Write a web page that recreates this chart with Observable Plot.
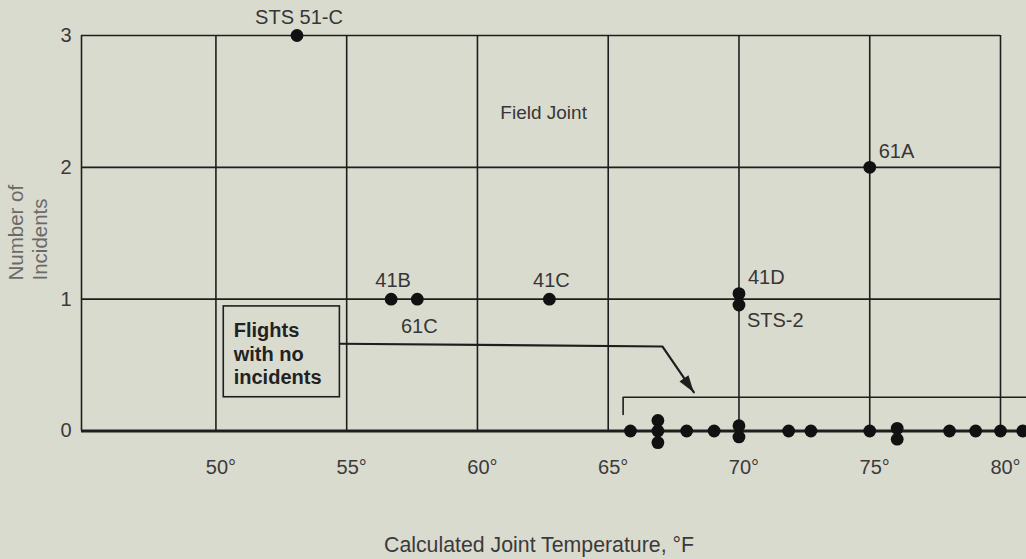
<!DOCTYPE html>
<html>
<head>
<meta charset="utf-8">
<script src="https://cdn.jsdelivr.net/npm/d3@7"></script>
<script src="https://cdn.jsdelivr.net/npm/@observablehq/plot@0.6"></script>
<style>
  html, body { margin: 0; padding: 0; background: #dadbcf; }
  #chart svg { display: block; }
</style>
</head>
<body>
<div id="chart"></div>
<script>
// ---- Data ----
// Flights with field-joint incidents
const incidentTemps  = [53.1, 56.7, 57.7, 62.75, 70, 70, 75];
const incidentCounts = [3, 1, 1, 1, 1, 1, 2];
const incidentStack  = [0, 0, 0, 0, 0.042, -0.045, 0];   // visual separation of coincident points
const incidentLabels = ["STS 51-C", "41B", "61C", "41C", "41D", "STS-2", "61A"];
const labelSide      = ["above", "above", "below", "above", "right-above", "right-below", "right-above"];

// Flights with no incidents
const zeroTemps  = [65.85, 66.9, 66.9, 66.9, 68, 69.05, 70, 70, 71.9, 72.75, 75, 76.05, 76.05, 78.05, 79.05, 80, 80.85];
const zeroStack  = [0, 0.08, 0, -0.088, 0, 0, 0.04, -0.045, 0, 0, 0, 0.02, -0.062, 0, 0, 0, 0];

// Axes
const xTicks = [50, 55, 60, 65, 70, 75, 80];
const yTicks = [0, 1, 2, 3];
const xDomain = [44.86, 80];
const yDomain = [0, 3];

// Annotation (data units)
const noteText = "Flights\nwith no\nincidents";
const noteBox = [{x1: 50.3, x2: 54.74, y1: 0.256, y2: 0.945}];
const leaderLine = [{x: 54.74, y: 0.662}, {x: 67.07, y: 0.641}, {x: 68.27, y: 0.294}];
const arrowTip = [{x: 68.27, y: 0.294}];
const bracketLine = [{x: 65.57, y: 0.125}, {x: 65.57, y: 0.256}, {x: 82, y: 0.256}];

// ---- Build tables ----
const incidents = incidentTemps.map((t, i) => ({
  temp: t, n: incidentCounts[i] + incidentStack[i], label: incidentLabels[i], side: labelSide[i]
}));
const noIncidents = zeroTemps.map((t, i) => ({temp: t, n: zeroStack[i]}));

const ink = "#1e1e1e";
const textInk = "#363636";
const font = "'Liberation Sans', Arial, Helvetica, sans-serif";

const arrowHead = {
  draw(context) {
    context.moveTo(0, 0);
    context.lineTo(5.5, 17);
    context.lineTo(-5.5, 17);
    context.closePath();
  }
};

const bySide = s => incidents.filter(d => d.side === s);

const chart = Plot.plot({
  width: 1026,
  height: 559,
  marginLeft: 81,
  marginRight: 26,
  marginTop: 35,
  marginBottom: 128.5,
  style: {background: "#dadbcf", fontFamily: font, fontSize: "20px", color: textInk, overflow: "visible"},
  x: {domain: xDomain},
  y: {domain: yDomain},
  marks: [
    // grid + frame
    Plot.ruleX(xTicks, {y1: yDomain[0], y2: yDomain[1], stroke: ink, strokeWidth: 1.6}),
    Plot.ruleX([xDomain[0]], {y1: yDomain[0], y2: yDomain[1], stroke: ink, strokeWidth: 1.6}),
    Plot.ruleY(yTicks.filter(d => d > 0), {x1: xDomain[0], x2: xDomain[1], stroke: ink, strokeWidth: 1.6}),
    Plot.ruleY([0], {x1: xDomain[0], x2: 82, stroke: ink, strokeWidth: 3.2}),

    // annotation
    Plot.rect(noteBox, {x1: "x1", x2: "x2", y1: "y1", y2: "y2", fill: "none", stroke: ink, strokeWidth: 1.6}),
    Plot.text([noteText], {x: 50.68, y: 0.591, textAnchor: "start", lineAnchor: "middle", lineHeight: 1.17,
      fontWeight: "bold", fontSize: 20, fill: "#222"}),
    Plot.line(leaderLine, {x: "x", y: "y", stroke: ink, strokeWidth: 2.2}),
    Plot.dot(arrowTip, {x: "x", y: "y", symbol: arrowHead, rotate: 145, fill: ink, stroke: "none"}),
    Plot.line(bracketLine, {x: "x", y: "y", stroke: ink, strokeWidth: 1.6}),

    Plot.text(["Field Joint"], {x: 62.53, y: 2.369, textAnchor: "middle", lineAnchor: "bottom", fontSize: 19, fill: textInk}),

    // points
    Plot.dot(noIncidents, {x: "temp", y: "n", r: 6.4, fill: "#111", stroke: "none"}),
    Plot.dot(incidents, {x: "temp", y: "n", r: 6.4, fill: "#111", stroke: "none"}),

    // point labels
    Plot.text(bySide("above"), {x: "temp", y: "n", text: "label", textAnchor: "middle", lineAnchor: "bottom", dx: 2, dy: -12, fontSize: 20, fill: textInk}),
    Plot.text(bySide("below"), {x: "temp", y: "n", text: "label", textAnchor: "middle", lineAnchor: "bottom", dx: 2, dy: 34, fontSize: 20, fill: textInk}),
    Plot.text(bySide("right-above"), {x: "temp", y: "n", text: "label", textAnchor: "start", lineAnchor: "bottom", dx: 9, dy: -9.5, fontSize: 20, fill: textInk}),
    Plot.text(bySide("right-below"), {x: "temp", y: "n", text: "label", textAnchor: "start", lineAnchor: "bottom", dx: 8, dy: 22, fontSize: 20, fill: textInk}),

    // axes
    Plot.axisX(xTicks, {tickSize: 0, tickPadding: 28.5, tickFormat: d => d + "°", dx: 5, fontSize: 20, fill: "#3a3a3a", label: null}),
    Plot.axisY(yTicks, {tickSize: 0, tickPadding: 10, tickFormat: d => String(d), fontSize: 20, fill: "#3a3a3a", label: null}),

    // axis titles
    Plot.text(["Calculated Joint Temperature, °F"], {frameAnchor: "bottom", textAnchor: "middle", lineAnchor: "bottom",
      dx: -2, dy: 120.5, fontSize: 21.3, fill: "#3a3a3a"}),
    Plot.text(["Number of"], {frameAnchor: "top-left", rotate: -90, textAnchor: "start", lineAnchor: "middle",
      dx: -65.5, dy: 245, fontSize: 20.5, fill: "#6a6a6a"}),
    Plot.text(["Incidents"], {frameAnchor: "top-left", rotate: -90, textAnchor: "start", lineAnchor: "middle",
      dx: -41.5, dy: 245, fontSize: 20.5, fill: "#6a6a6a"})
  ]
});

document.getElementById("chart").appendChild(chart);
</script>
</body>
</html>
